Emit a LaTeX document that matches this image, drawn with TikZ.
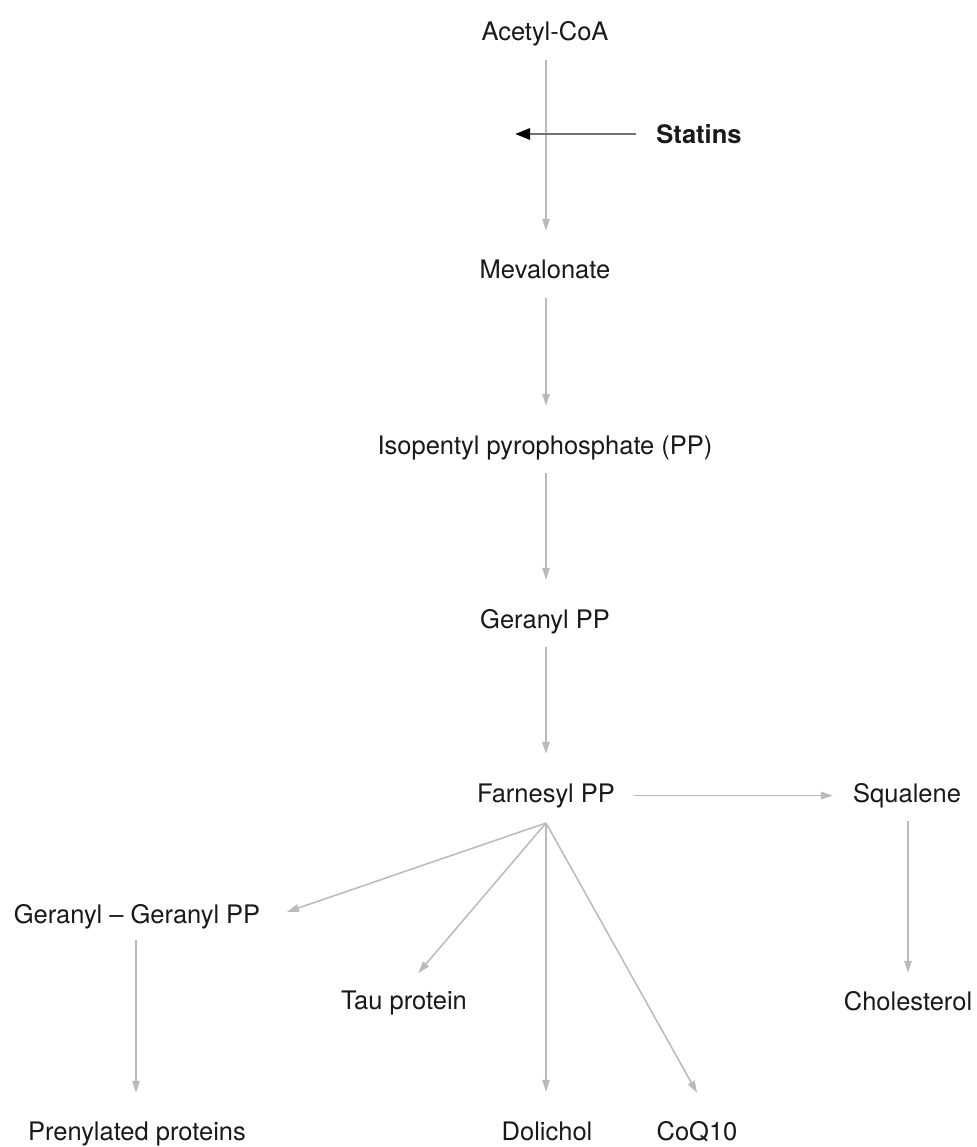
\documentclass[tikz,border=0pt]{standalone}
\usepackage{fontspec}
\setmainfont{TeX Gyre Heros}
\usetikzlibrary{arrows.meta}
\definecolor{arrowgray}{RGB}{186,186,186}
\definecolor{txt}{RGB}{25,25,25}
\definecolor{inhgray}{RGB}{115,115,115}
\tikzset{
  lbl/.style={anchor=base, inner sep=0pt, text height=19pt, text depth=6pt,
    text=txt, font=\fontsize{25.5pt}{30pt}\selectfont},
  flow/.style={draw=arrowgray, line width=1.5pt,
    -{Triangle[length=12pt,width=7.5pt,fill=arrowgray]}},
  vflow/.style={flow, shorten <=13pt, shorten >=29pt},
  inhibit/.style={draw=inhgray, line width=2.8pt,
    -{Triangle[length=15pt,width=11pt,color=black]}}
}
\begin{document}
\begin{tikzpicture}[x=1pt,y=-1pt]
\useasboundingbox (0,0) rectangle (976,1147);
\fill[white] (0,0) rectangle (976,1147);

\node[lbl] (acetyl) at (545,41) {Acetyl-CoA};
\node[lbl, font=\fontsize{25.5pt}{30pt}\selectfont\bfseries] (statins) at (699,144) {Statins};
\node[lbl] (meva) at (545,279) {Mevalonate};
\node[lbl] (ipp) at (545,454) {Isopentyl pyrophosphate (PP)};
\node[lbl] (gpp) at (545,628) {Geranyl PP};
\node[lbl] (fpp) at (546,802) {Farnesyl PP};
\node[lbl] (squa) at (907,802) {Squalene};
\node[lbl] (chol) at (908,1010) {Cholesterol};
\node[lbl] (ggpp) at (137,923) {Geranyl -- Geranyl PP};
\node[lbl] (tau) at (404,1009) {Tau protein};
\node[lbl] (prenyl) at (137,1140) {Prenylated proteins};
\node[lbl] (doli) at (547,1140) {Dolichol};
\node[lbl] (coq) at (697,1140) {CoQ10};

\coordinate (fan) at ([yshift=-21pt]fpp.base);
\coordinate (inhib) at (515,134);

\draw[vflow] (acetyl.south -| 546,0) -- (meva.north -| 546,0);
\draw[vflow] (meva.south -| 546,0) -- (ipp.north -| 546,0);
\draw[vflow] (ipp.south -| 546,0) -- (gpp.north -| 546,0);
\draw[vflow] (gpp.south -| 546,0) -- (fpp.north -| 546,0);

\draw[inhibit, shorten <=20pt] (inhib -| statins.west) -- (inhib);

\draw[flow, shorten <=19pt, shorten >=20pt] (fpp.east) -- (squa.west);
\draw[flow, shorten <=13pt, shorten >=18pt] (squa.south -| 908,0) -- (chol.north -| 908,0);

\draw[flow, shorten >=28pt] (fan) -- ([yshift=-4.5pt]ggpp.east);
\draw[flow, shorten >=22pt] (fan) -- (tau.north);
\draw[flow, shorten >=29pt] (fan) -- (doli.north -| fan);
\draw[flow, shorten >=32pt] (fan) -- ([xshift=15.7pt]coq.north);

\draw[flow, shorten <=11pt, shorten >=28pt] (ggpp.south -| 136,0) -- (prenyl.north -| 136,0);
\end{tikzpicture}
\end{document}
